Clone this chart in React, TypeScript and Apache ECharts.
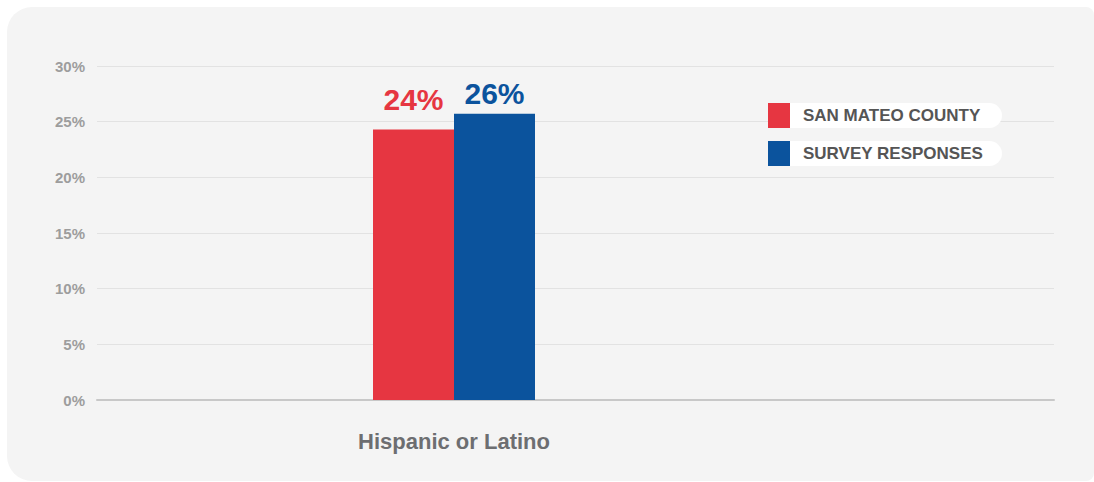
import React, { useEffect, useRef } from "react";
import * as echarts from "echarts";

const categories = ["Hispanic or Latino"];
const seriesNames = ["SAN MATEO COUNTY", "SURVEY RESPONSES"];
const sanMateoValues = [24.3];
const surveyValues = [25.7];
const valueLabels = [["24%"], ["26%"]];
const yTicks = [0, 5, 10, 15, 20, 25, 30];
const colors = ["#e63641", "#0b539d"];

export default function App() {
  const ref = useRef<HTMLDivElement>(null);
  useEffect(() => {
    if (!ref.current) return;
    const chart = echarts.init(ref.current, null, { renderer: "svg" });
    const yMax = yTicks[yTicks.length - 1];
    const legendGraphics: any[] = [];
    seriesNames.forEach((name, i) => {
      const top = 103 + i * 38;
      legendGraphics.push(
        {
          type: "rect",
          shape: { x: 790, y: top, width: 212, height: 25, r: [0, 12.5, 12.5, 0] },
          style: { fill: "#ffffff" },
          z: 10,
        },
        {
          type: "rect",
          shape: { x: 768, y: top, width: 22, height: 25 },
          style: { fill: colors[i] },
          z: 11,
        },
        {
          type: "text",
          x: 803,
          y: top + 12.5,
          style: {
            text: name,
            fill: "#555555",
            font: "bold 17px 'Liberation Sans', Arial, sans-serif",
            verticalAlign: "middle",
          },
          z: 11,
        }
      );
    });
    const dataSets = [sanMateoValues, surveyValues];
    const labelDistances = [15, 5];
    chart.setOption({
      animation: false,
      backgroundColor: "transparent",
      graphic: [
        {
          type: "rect",
          shape: { x: 7, y: 7, width: 1087, height: 474, r: [25, 8, 8, 25] },
          style: { fill: "#f4f4f4" },
          z: -10,
        },
        ...legendGraphics,
      ],
      grid: [
        { left: 97, right: 40, top: 66, height: 334, containLabel: false },
        { left: 97, width: 714, top: 66, height: 334, containLabel: false },
      ],
      xAxis: [
        {
          gridIndex: 0,
          type: "category",
          data: [""],
          axisLine: { show: true, lineStyle: { color: "#c8c8c8", width: 2 } },
          axisTick: { show: false },
          axisLabel: { show: false },
        },
        {
          gridIndex: 1,
          type: "category",
          data: categories,
          axisLine: { show: false },
          axisTick: { show: false },
          axisLabel: {
            margin: 30,
            color: "#6d6e71",
            fontSize: 22,
            fontWeight: "bold",
            fontFamily: "'Liberation Sans', Arial, sans-serif",
          },
        },
      ],
      yAxis: [
        {
          gridIndex: 0,
          type: "value",
          min: 0,
          max: yMax,
          interval: 5,
          axisLine: { show: false },
          axisTick: { show: false },
          splitLine: { show: true, lineStyle: { color: "#e2e2e2", width: 1 } },
          axisLabel: {
            margin: 12,
            formatter: (v: number) => `${v}%`,
            color: "#9d9d9d",
            fontSize: 15,
            fontWeight: "bold",
            fontFamily: "'Liberation Sans Narrow', 'Arial Narrow', 'Liberation Sans', Arial, sans-serif",
          },
        },
        {
          gridIndex: 1,
          type: "value",
          min: 0,
          max: yMax,
          interval: 5,
          show: false,
          splitLine: { show: false },
        },
      ],
      series: seriesNames.map((name, i) => ({
        name,
        type: "bar",
        xAxisIndex: 1,
        yAxisIndex: 1,
        barWidth: 81,
        barGap: "0%",
        data: dataSets[i],
        itemStyle: { color: colors[i] },
        label: {
          show: true,
          position: "top",
          distance: labelDistances[i],
          formatter: (p: any) => valueLabels[i][p.dataIndex],
          color: colors[i],
          fontSize: 30,
          fontWeight: "bold",
          fontFamily: "'Liberation Sans', Arial, sans-serif",
        },
      })),
    });
    return () => chart.dispose();
  }, []);
  return (
    <div
      ref={ref}
      style={{ position: "fixed", left: 0, top: 0, width: 1094, height: 482, background: "#ffffff" }}
    />
  );
}
